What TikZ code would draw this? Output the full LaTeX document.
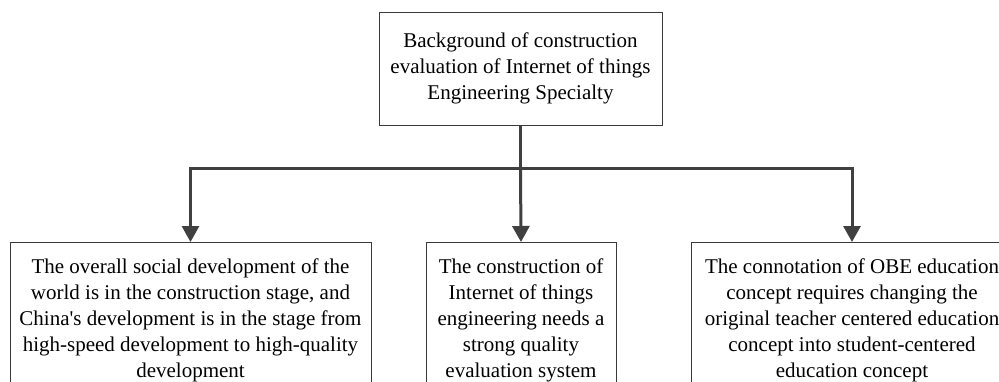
\documentclass[tikz,border=0pt]{standalone}
\usepackage{fontspec}
\setmainfont{Liberation Serif}[Ligatures=TeXOff]
\usetikzlibrary{arrows.meta, positioning}
\definecolor{mLine}{HTML}{404040}
\definecolor{mBox}{HTML}{3A3A3A}
\tikzset{
  topbox/.style={draw=mBox, line width=1pt, align=center, minimum width=283pt,
    minimum height=113pt, font=\fontsize{21}{26}\selectfont},
  leafbox/.style={draw=mBox, line width=1pt, align=center, anchor=north,
    inner ysep=16pt, font=\fontsize{21}{26}\selectfont},
  link/.style={draw=mLine, line width=3pt},
  linkarrow/.style={link, -{Triangle[length=16pt, width=17pt]}}
}
\begin{document}
\begin{tikzpicture}[x=1pt, y=-1pt]
    \useasboundingbox (0,0) rectangle (999,381);
    \clip (0,0) rectangle (999,381);
    % root
    \node[topbox] (bg) at (520.5,68.5) {Background of construction\\
      evaluation of Internet of things\\ Engineering Specialty};
    % leaves
    \node[leafbox, minimum width=361pt] (world) at (190.5,242) {The overall social development of the\\
      world is in the construction stage, and\\ China's development is in the stage from\\
      high-speed development to high-quality\\ development};
    \node[leafbox, minimum width=190pt] (iot) at (521,242) {The construction of\\
      Internet of things\\ engineering needs a\\ strong quality\\ evaluation system};
    \node[leafbox, minimum width=322pt] (obe) at (852,242) {The connotation of OBE education\\
      concept requires changing the\\ original teacher centered education\\
      concept into student-centered\\ education concept};
    % connectors
    \coordinate (split) at (520.5,168);
    \draw[link] (bg.south) -- (split);
    \draw[linkarrow] (split) -| (world.north);
    \draw[linkarrow] (split) -| (obe.north);
    \draw[linkarrow] (split) -- (iot.north);
\end{tikzpicture}
\end{document}
